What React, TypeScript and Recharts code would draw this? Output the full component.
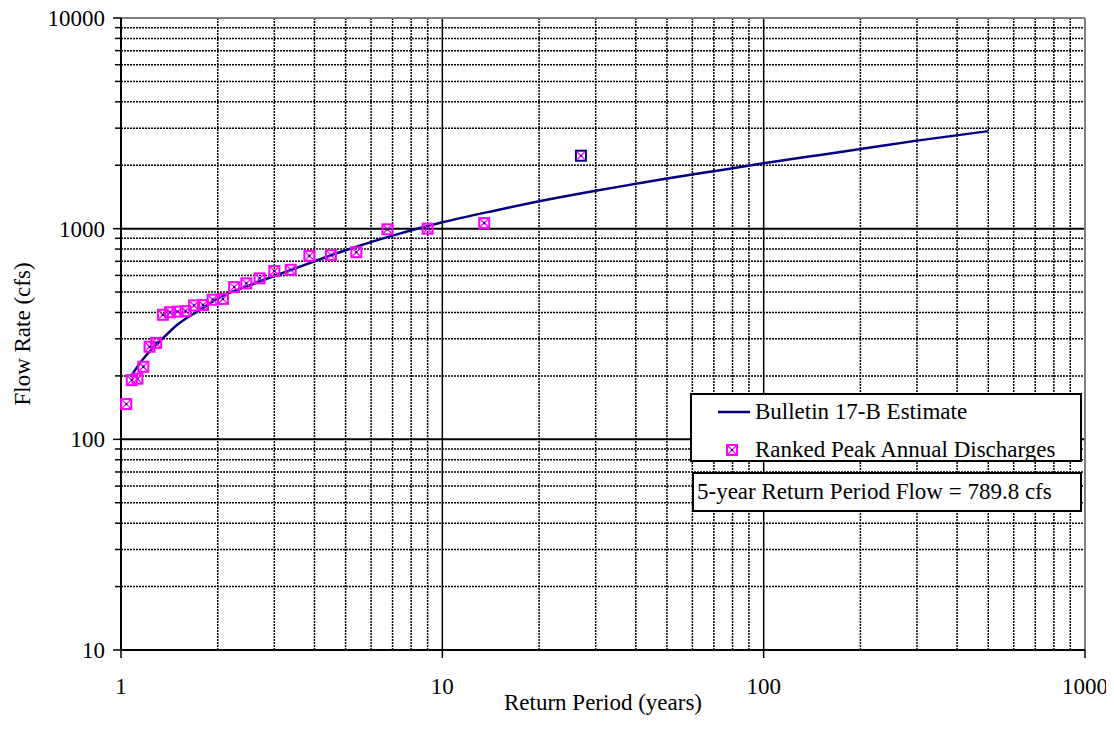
import { CartesianGrid, ComposedChart, Legend, Line, ReferenceLine, Scatter, XAxis, YAxis, Label } from 'recharts';

// Bulletin 17-B frequency curve (return period in years, flow in cfs)
const curveT = [1.08, 1.17, 1.25, 1.3, 1.5, 1.75, 2, 2.5, 3, 4, 5, 7, 10, 15, 20, 30, 40, 50, 75, 100, 150, 200, 300, 500];
const curveQ = [202, 240, 269, 285, 351, 409, 466, 537, 596, 700, 790, 927, 1072, 1230, 1349, 1514, 1633, 1730, 1905, 2042, 2239, 2388, 2618, 2904];

// ranked peak annual discharges
const rankT = [27, 13.5, 9, 6.75, 5.4, 4.5, 3.857, 3.375, 3, 2.7, 2.455, 2.25, 2.077, 1.929, 1.8, 1.688, 1.588, 1.5, 1.421, 1.35, 1.286, 1.227, 1.174, 1.125, 1.08, 1.038];
const rankQ = [2220, 1063, 1000, 993, 773, 749, 743, 638, 629, 581, 550, 528, 464, 460, 434, 432, 406, 404, 401, 390, 287, 275, 221, 194, 191, 147];

const xTicks = [1, 10, 100, 1000];
const yTicks = [10, 100, 1000, 10000];
const xMinor = [2, 3, 4, 5, 6, 7, 8, 9, 20, 30, 40, 50, 60, 70, 80, 90, 200, 300, 400, 500, 600, 700, 800, 900];
const yMinor = [20, 30, 40, 50, 60, 70, 80, 90, 200, 300, 400, 500, 600, 700, 800, 900, 2000, 3000, 4000, 5000, 6000, 7000, 8000, 9000];
const xMajor = [10, 100];
const yMajor = [100, 1000];

const curveName = 'Bulletin 17-B Estimate';
const rankName = 'Ranked Peak Annual Discharges';
const note = '5-year Return Period Flow = 789.8 cfs';

const curveData = curveT.map((T, i) => ({ T, Q: curveQ[i] }));
const rankData = rankT.map((T, i) => ({ T, Q: rankQ[i] }));

const FONT = '"Liberation Serif", "Times New Roman", serif';
const NAVY = '#000080';
const MAGENTA = '#FF00FF';

const Marker = ({ cx, cy, edge = MAGENTA }: { cx: number; cy: number; edge?: string }) => (
  <g>
    <rect x={cx - 5} y={cy - 5} width={10} height={10} fill="none" stroke={edge} strokeWidth={2} />
    <line x1={cx - 4} y1={cy - 4} x2={cx + 4} y2={cy + 4} stroke={MAGENTA} strokeWidth={1.3} />
    <line x1={cx + 4} y1={cy - 4} x2={cx - 4} y2={cy + 4} stroke={MAGENTA} strokeWidth={1.3} />
    <rect x={cx - 1} y={cy - 1} width={2} height={2} fill={NAVY} />
  </g>
);

const rankShape = (props: any) => {
  const { cx, cy, payload } = props;
  // the largest event is drawn with a navy edge in the original
  const edge = payload && payload.T === rankT[0] ? NAVY : MAGENTA;
  return <Marker cx={cx} cy={cy} edge={edge} />;
};

const YTick = (props: any) => {
  const { x, y, payload } = props;
  const major = yTicks.includes(payload.value);
  const axisX = x + 11 + 8;
  return (
    <g>
      <line x1={axisX - (major ? 8 : 6)} x2={axisX} y1={y} y2={y} stroke="#000" strokeWidth={1.5} />
      {major && (
        <text x={x + 3} y={y} dy="0.35em" textAnchor="end" fill="#000" fontSize={23} fontFamily={FONT}>
          {payload.value}
        </text>
      )}
    </g>
  );
};

const LegendBox = () => (
  <div style={{ fontFamily: FONT, fontSize: 23, color: '#000' }}>
    <div
      style={{
        width: 388,
        height: 65,
        border: '2px solid #000',
        background: '#fff',
        position: 'relative',
      }}
    >
      <svg width={60} height={65} style={{ position: 'absolute', left: 0, top: 0 }}>
        <line x1={26} x2={58} y1={17} y2={17} stroke={NAVY} strokeWidth={2.5} />
        <Marker cx={40} cy={55} />
      </svg>
      <div style={{ position: 'absolute', left: 63, top: 3, whiteSpace: 'nowrap', lineHeight: '28px' }}>{curveName}</div>
      <div style={{ position: 'absolute', left: 63, top: 41, whiteSpace: 'nowrap', lineHeight: '28px' }}>{rankName}</div>
    </div>
    <div
      style={{
        marginTop: 10,
        marginLeft: 2,
        width: 383,
        height: 36,
        border: '2px solid #000',
        background: '#fff',
        whiteSpace: 'nowrap',
        lineHeight: '36px',
        paddingLeft: 3,
        boxSizing: 'content-box',
      }}
    >
      {note}
    </div>
  </div>
);

export default function App() {
  return (
    <div style={{ fontFamily: FONT, marginTop: -8 }}>
      <ComposedChart width={1100} height={734} margin={{ top: 18, right: 23, bottom: 14, left: 0 }}>
        <CartesianGrid
          horizontalValues={yMinor}
          verticalValues={xMinor}
          stroke="#000"
          strokeDasharray="2 1"
          strokeWidth={1.5}
          fill="none"
        />
        <CartesianGrid horizontalValues={yMajor} vertical={false} stroke="#000" strokeWidth={2} fill="none" />
        <CartesianGrid verticalValues={xMajor} horizontal={false} stroke="#000" strokeWidth={1.5} fill="none" />
        <XAxis
          dataKey="T"
          type="number"
          scale="log"
          domain={[1, 1000]}
          ticks={xTicks}
          interval={0}
          allowDuplicatedCategory={false}
          height={70}
          tickSize={8}
          tickMargin={20}
          axisLine={{ stroke: '#000', strokeWidth: 2 }}
          tickLine={{ stroke: '#000', strokeWidth: 1.5 }}
          tick={{ fill: '#000', fontSize: 23, fontFamily: FONT }}
        >
          <Label
            value="Return Period (years)"
            position="insideBottom"
            offset={10}
            style={{ fill: '#000', fontSize: 23, fontFamily: FONT }}
          />
        </XAxis>
        <YAxis
          dataKey="Q"
          type="number"
          scale="log"
          domain={[10, 10000]}
          ticks={[...yTicks, ...yMinor]}
          interval={0}
          width={113}
          tickSize={8}
          tickMargin={11}
          tickLine={false}
          axisLine={{ stroke: '#000', strokeWidth: 2 }}
          tick={<YTick />}
        >
          <Label
            value="Flow Rate (cfs)"
            angle={-90}
            position="insideLeft"
            offset={14}
            style={{ fill: '#000', fontSize: 23, fontFamily: FONT, textAnchor: 'middle' }}
          />
        </YAxis>
        <ReferenceLine y={10000} stroke="#808080" strokeWidth={2} ifOverflow="visible" />
        <ReferenceLine x={1000} stroke="#808080" strokeWidth={2} ifOverflow="visible" />
        <Line
          data={curveData}
          dataKey="Q"
          name={curveName}
          type="monotone"
          stroke={NAVY}
          strokeWidth={2.5}
          dot={false}
          activeDot={false}
          isAnimationActive={false}
        />
        <Scatter data={rankData} dataKey="Q" name={rankName} shape={rankShape} isAnimationActive={false} />
        <Legend
          layout="horizontal"
          verticalAlign="middle"
          align="center"
          content={<LegendBox />}
          wrapperStyle={{ position: 'absolute', left: 682, top: 393, width: 'auto', height: 'auto' }}
        />
      </ComposedChart>
    </div>
  );
}
